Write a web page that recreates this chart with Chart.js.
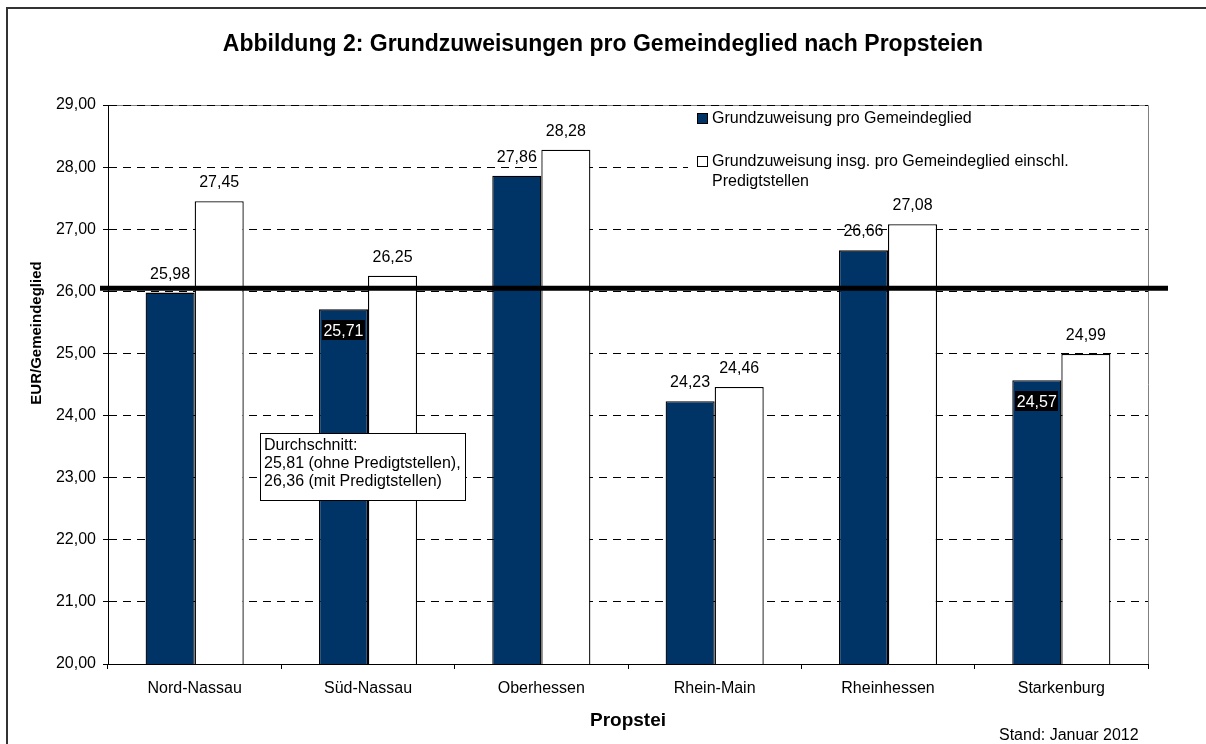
<!DOCTYPE html>
<html>
<head>
<meta charset="utf-8">
<script src="https://cdn.jsdelivr.net/npm/chart.js@4/dist/chart.umd.min.js"></script>
<style>
  html, body { margin: 0; padding: 0; background: #fff; }
  #c { display: block; }
</style>
</head>
<body>
<canvas id="c" width="1206" height="744"></canvas>
<script>
// ---- Data ----
const chartTitle = 'Abbildung 2: Grundzuweisungen pro Gemeindeglied nach Propsteien';
const categories = ['Nord-Nassau', 'Süd-Nassau', 'Oberhessen', 'Rhein-Main', 'Rheinhessen', 'Starkenburg'];
const seriesNames = ['Grundzuweisung pro Gemeindeglied', 'Grundzuweisung insg. pro Gemeindeglied einschl. Predigtstellen'];
const grundzuweisung = [25.98, 25.71, 27.86, 24.23, 26.66, 24.57];
const grundzuweisungInsg = [27.45, 26.25, 28.28, 24.46, 27.08, 24.99];
const labelInsideBar = [false, true, false, false, false, true];
const averageLineValue = 26.05;
const yMin = 20, yMax = 29, yStep = 1;
const yAxisTitle = 'EUR/Gemeindeglied';
const xAxisTitle = 'Propstei';
const noteLines = ['Durchschnitt:', '25,81 (ohne Predigtstellen),', '26,36 (mit Predigtstellen)'];
const standText = 'Stand: Januar 2012';

// ---- Styles ----
const FONT = '"Liberation Sans", Arial, sans-serif';
const NAVY = '#003366';
const fmt = v => v.toFixed(2).replace('.', ',');

function wrapText(ctx, text, maxW) {
  const words = text.split(' ');
  const lines = [];
  let cur = '';
  words.forEach(w => {
    const test = cur ? cur + ' ' + w : w;
    if (ctx.measureText(test).width > maxW && cur) { lines.push(cur); cur = w; }
    else cur = test;
  });
  if (cur) lines.push(cur);
  return lines;
}

const decorations = {
  id: 'decorations',
  beforeDraw(chart) {
    const { ctx, chartArea: a } = chart;
    ctx.save();
    ctx.fillStyle = '#fff';
    ctx.fillRect(0, 0, chart.width, chart.height);
    // outer frame
    ctx.strokeStyle = '#333';
    ctx.lineWidth = 2;
    ctx.beginPath();
    ctx.moveTo(7, chart.height + 2);
    ctx.lineTo(7, 8);
    ctx.lineTo(chart.width + 2, 8);
    ctx.stroke();
    // plot area frame (top/right)
    ctx.strokeStyle = '#808080';
    ctx.lineWidth = 1;
    ctx.beginPath();
    ctx.moveTo(a.left, Math.round(a.top) + 0.5);
    ctx.lineTo(Math.round(a.right) + 0.5, Math.round(a.top) + 0.5);
    ctx.lineTo(Math.round(a.right) + 0.5, a.bottom);
    ctx.stroke();
    ctx.restore();
  },
  afterDatasetsDraw(chart) {
    const { ctx, chartArea: a } = chart;
    const ys = chart.scales.y;
    ctx.save();

    // legend background
    ctx.fillStyle = '#fff';
    ctx.fillRect(688, Math.round(a.top) + 1, Math.round(a.right) - 688, 92);

    // data labels
    ctx.font = '16px ' + FONT;
    ctx.textAlign = 'center';
    chart.data.datasets.forEach((ds, di) => {
      const meta = chart.getDatasetMeta(di);
      meta.data.forEach((bar, i) => {
        const txt = fmt(ds.data[i]);
        if (di === 0 && labelInsideBar[i]) {
          const w = ctx.measureText(txt).width + 3;
          const h = 20;
          const cy = bar.y + 21;
          ctx.fillStyle = '#000';
          ctx.fillRect(Math.round(bar.x - w / 2), Math.round(cy - h / 2), Math.round(w), h);
          ctx.fillStyle = '#fff';
          ctx.textBaseline = 'middle';
          ctx.fillText(txt, bar.x, cy + 1);
        } else {
          ctx.fillStyle = '#000';
          ctx.textBaseline = 'alphabetic';
          ctx.fillText(txt, bar.x, bar.y - 14);
        }
      });
    });

    // average line
    const yAvg = ys.getPixelForValue(averageLineValue);
    ctx.strokeStyle = '#000';
    ctx.lineWidth = 5;
    ctx.beginPath();
    ctx.moveTo(a.left - 8, yAvg);
    ctx.lineTo(a.right + 20, yAvg);
    ctx.stroke();

    // legend entries
    ctx.font = '16px ' + FONT;
    ctx.textAlign = 'left';
    ctx.textBaseline = 'middle';
    const legendY = [119, 162];
    chart.data.datasets.forEach((ds, di) => {
      const y = legendY[di];
      ctx.fillStyle = ds.backgroundColor;
      ctx.fillRect(697.5, y - 5.5, 10, 10);
      ctx.strokeStyle = '#000';
      ctx.lineWidth = 1;
      ctx.strokeRect(697.5, y - 5.5, 10, 10);
      ctx.fillStyle = '#000';
      const lines = wrapText(ctx, ds.label, 400);
      lines.forEach((ln, li) => ctx.fillText(ln, 712, y + li * 20));
    });

    // note box
    ctx.fillStyle = '#fff';
    ctx.fillRect(260.5, 433.5, 205, 67);
    ctx.strokeStyle = '#000';
    ctx.lineWidth = 1;
    ctx.strokeRect(260.5, 433.5, 205, 67);
    ctx.fillStyle = '#000';
    ctx.textAlign = 'left';
    ctx.textBaseline = 'middle';
    noteLines.forEach((ln, i) => ctx.fillText(ln, 264, 446 + i * 18));

    // title
    ctx.textAlign = 'center';
    ctx.textBaseline = 'alphabetic';
    ctx.font = 'bold 23px ' + FONT;
    ctx.fillText(chartTitle, 603, 51);

    // x axis title
    ctx.font = 'bold 19px ' + FONT;
    ctx.fillText(xAxisTitle, (a.left + a.right) / 2, 726);

    // y axis title
    ctx.save();
    ctx.translate(41, 333);
    ctx.rotate(-Math.PI / 2);
    ctx.font = 'bold 15px ' + FONT;
    ctx.textAlign = 'center';
    ctx.fillText(yAxisTitle, 0, 0);
    ctx.restore();

    // stand
    ctx.font = '16px ' + FONT;
    ctx.textAlign = 'left';
    ctx.fillText(standText, 999, 740);

    ctx.restore();
  }
};

new Chart(document.getElementById('c'), {
  type: 'bar',
  data: {
    labels: categories,
    datasets: [
      { label: seriesNames[0], data: grundzuweisung, backgroundColor: NAVY, borderColor: '#000', borderWidth: 1.3 },
      { label: seriesNames[1], data: grundzuweisungInsg, backgroundColor: '#ffffff', borderColor: '#000', borderWidth: 1.3 }
    ]
  },
  options: {
    responsive: false,
    animation: false,
    devicePixelRatio: 1,
    categoryPercentage: 0.566,
    barPercentage: 1,
    layout: { padding: { top: 105, right: 58, left: 0, bottom: 0 } },
    plugins: { legend: { display: false }, tooltip: { enabled: false }, title: { display: false } },
    scales: {
      x: {
        offset: true,
        afterFit(s) { s.height = 80; },
        grid: { drawOnChartArea: false, drawTicks: true, tickLength: 5, offset: true, color: '#000', tickColor: '#000' },
        border: { display: true, color: '#000', width: 1 },
        ticks: { color: '#000', font: { family: FONT, size: 16 }, padding: 10, maxRotation: 0, autoSkip: false }
      },
      y: {
        min: yMin, max: yMax,
        afterFit(s) { s.width = 108; },
        grid: { color: '#000', tickLength: 5, tickColor: '#000', tickBorderDash: [], lineWidth: 1 },
        border: { display: true, color: '#000', width: 1, dash: [8, 6] },
        ticks: { stepSize: yStep, color: '#000', padding: 7, font: { family: FONT, size: 16 }, callback: v => fmt(v) }
      }
    }
  },
  plugins: [decorations]
});
</script>
</body>
</html>
